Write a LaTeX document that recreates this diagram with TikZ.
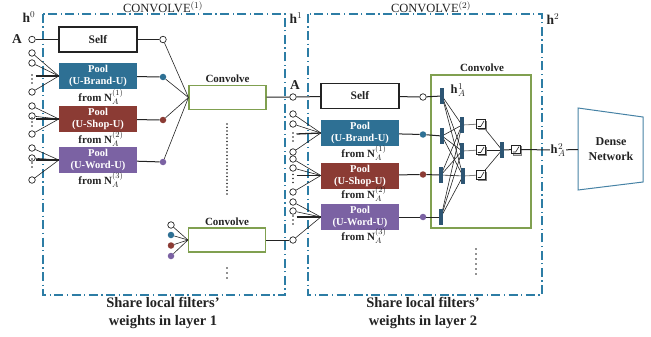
\documentclass[tikz,border=0pt]{standalone}
\usepackage{fontspec}
\setmainfont{Liberation Serif}
\usetikzlibrary{backgrounds,shadows}
\definecolor{ink}{RGB}{35,35,35}
\definecolor{frameblue}{RGB}{45,125,165}
\definecolor{brandc}{RGB}{46,112,148}
\definecolor{shopc}{RGB}{139,59,52}
\definecolor{wordc}{RGB}{123,98,163}
\definecolor{convg}{RGB}{128,160,80}
\definecolor{barc}{RGB}{45,85,115}
\definecolor{densec}{RGB}{70,130,165}
\begin{document}
\begin{tikzpicture}[x=1pt,y=-1pt,
  every node/.style={text=ink},
  lbl/.style={font=\fontsize{11}{12}\selectfont\bfseries, inner sep=0.5pt},
  big/.style={font=\fontsize{13.5}{14}\selectfont\bfseries, inner sep=0.5pt},
  hlbl/.style={font=\fontsize{12.5}{13}\selectfont\bfseries, inner sep=0.5pt},
  frame/.style={draw=frameblue, line width=1.1pt, dash pattern=on 9pt off 3.5pt on 1.2pt off 3.5pt},
  selfbox/.style={draw=ink, line width=1.1pt, fill=white, minimum width=78pt, minimum height=25pt, inner sep=0pt, font=\fontsize{11.5}{12}\selectfont\bfseries},
  pool/.style={minimum width=78pt, minimum height=26pt, inner sep=0pt, align=center, text=white, font=\fontsize{10.5}{12}\selectfont\bfseries},
  convbox/.style={draw=convg, line width=1.1pt, minimum width=77pt, minimum height=24pt, inner sep=0pt},
  oc/.style={circle, draw=ink, fill=white, line width=0.7pt, minimum size=6.5pt, inner sep=0pt},
  fc/.style={circle, minimum size=6.5pt, inner sep=0pt},
  wire/.style={draw=ink, line width=0.6pt},
  feed/.style={draw=ink, line width=1pt},
  stub/.style={draw=ink, line width=1.3pt},
  bar/.style={fill=barc, minimum width=4pt, minimum height=16pt, inner sep=0pt},
  act/.style={draw=ink, fill=white, line width=0.6pt, minimum size=8.5pt, inner sep=0pt,
    copy shadow={shadow xshift=1.2pt, shadow yshift=-1.2pt, draw=gray, fill=gray!40},
    path picture={\draw[line width=0.6pt] ([shift={(1.2pt,1.8pt)}]path picture bounding box.south west) -- ++(2.8pt,0pt) -- ([shift={(-1.2pt,-1.2pt)}]path picture bounding box.north east);}},
]
\useasboundingbox (0,0) rectangle (651,337);

% group frames
\draw[frame] (43,14) rectangle (285,295);
\draw[frame] (308,14) rectangle (542,295);

% titles and layer markers
\node[font=\fontsize{12.5}{13}\selectfont] (t1) at (163,7) {CONVOLVE$^{(1)}$};
\node[font=\fontsize{12.5}{13}\selectfont] (t2) at (431,7) {CONVOLVE$^{(2)}$};
\node[big] (h0) at (29,17) {h$^{0}$};
\node[big] (h1) at (296,18) {h$^{1}$};
\node[big] (h2) at (553,19) {h$^{2}$};

% ---------- layer 1 ----------
\node[big] (A1) at (17,39) {A};
\node[oc] (a1) at (32,39.5) {};
\node[selfbox] (s1) at (98,39.5) {Self};
\node[oc] (so1) at (163,39.5) {};
\node[pool, fill=brandc] (b1) at (98,76) {Pool\\(U-Brand-U)};
\node[pool, fill=shopc] (p1) at (98,119) {Pool\\(U-Shop-U)};
\node[pool, fill=wordc] (w1) at (98,160) {Pool\\(U-Word-U)};
\node[lbl] (fb1) at (101,97) {from \textbf{N}$_{A}^{(1)}$};
\node[lbl] (fp1) at (101,139) {from \textbf{N}$_{A}^{(2)}$};
\node[lbl] (fw1) at (101,180) {from \textbf{N}$_{A}^{(3)}$};
\node[fc, fill=brandc] (bo1) at (163,77) {};
\node[fc, fill=shopc] (po1) at (163,120) {};
\node[fc, fill=wordc] (wo1) at (163,162) {};

\draw[feed] (a1) -- (s1);
\draw[feed] (s1) -- (so1);
\draw[feed] (b1) -- (bo1);
\draw[feed] (p1) -- (po1);
\draw[feed] (w1) -- (wo1);

\node[convbox] (c1) at (227.5,97.5) {};
\node[lbl] (cl1) at (227.5,79) {Convolve};
\foreach \n in {so1,bo1,po1,wo1} \draw[wire] (\n) -- (c1.west);
\foreach \y in {124,127.5,...,195} \fill[ink] (227,\y) circle (0.8);

\node[convbox] (c2) at (227,240) {};
\node[lbl] (cl2) at (227,222) {Convolve};
\node[oc] (k1) at (171,225) {};
\node[fc, fill=brandc] (k2) at (171,235) {};
\node[fc, fill=shopc] (k3) at (171,245.5) {};
\node[fc, fill=wordc] (k4) at (171,256) {};
\foreach \n in {k1,k2,k3,k4} \draw[wire] (\n) -- (c2.west);
\foreach \y in {268,273,278} \fill[ink] (227,\y) circle (0.8);

% ---------- layer 2 ----------
\node[big] (A2) at (295,85) {A};
\node[oc] (a2) at (293,97) {};
\node[selfbox] (s2) at (360,96) {Self};
\node[oc] (so2) at (423,97) {};
\node[pool, fill=brandc] (b2) at (360,133) {Pool\\(U-Brand-U)};
\node[pool, fill=shopc] (p2) at (360,175.5) {Pool\\(U-Shop-U)};
\node[pool, fill=wordc] (w2) at (360,217) {Pool\\(U-Word-U)};
\node[lbl] (fb2) at (364,153) {from \textbf{N}$_{A}^{(1)}$};
\node[lbl] (fp2) at (364,194) {from \textbf{N}$_{A}^{(2)}$};
\node[lbl] (fw2) at (364,236) {from \textbf{N}$_{A}^{(3)}$};
\node[fc, fill=brandc] (bo2) at (423,134.5) {};
\node[fc, fill=shopc] (po2) at (423,174.5) {};
\node[fc, fill=wordc] (wo2) at (423,217) {};

\draw[feed] (c1) -- (a2);
\draw[feed] (a2) -- (s2);
\draw[feed] (s2) -- (so2);
\draw[feed] (b2) -- (bo2);
\draw[feed] (p2) -- (po2);
\draw[feed] (w2) -- (wo2);

% neighbour inputs feeding each pooling box
\foreach \bx/\c/\xa/\ya/\yb/\yc in {b1/76/32/53/63/92, p1/119/32/106/116/134, w1/160/32/148/158/180,
                                     b2/134/293/114/124/152, p2/175.5/293/159/168/192, w2/217/293/202/211/240}{
  \node[oc] (\bx-t1) at (\xa,\ya) {};
  \node[oc] (\bx-t2) at (\xa,\yb) {};
  \node[oc] (\bx-bt) at (\xa,\yc) {};
  \coordinate (\bx-st) at (\xa+3.5,\c);
  \draw[wire] (\bx-t1) -- (\bx.west);
  \draw[wire] (\bx-t2) -- (\bx.west);
  \draw[wire] (\bx-bt) -- (\bx.west);
  \draw[stub] (\bx-st) -- (\bx.west);
  \foreach \d in {-1,3,7} \fill[ink] (\xa,\c+\d) circle (0.9);
}
\draw[feed] (c2) -- (w2-bt);

% convolution block of layer 2
\node[convbox, minimum width=100pt, minimum height=153pt] (cb) at (481,151.5) {};
\node[lbl] (cbl) at (482,68) {Convolve};
\node[bar] (i1) at (442,96) {};
\node[bar] (i2) at (442,136) {};
\node[bar] (i3) at (441,175) {};
\node[bar] (i4) at (441,217) {};
\node[bar] (g1) at (462,125) {};
\node[bar] (g2) at (462,151) {};
\node[bar] (g3) at (463,176) {};
\node[act] (q1) at (481,124) {};
\node[act] (q2) at (481,150) {};
\node[act] (q3) at (481,175) {};
\node[bar] (o) at (502,150) {};
\node[act] (qf) at (516,149.5) {};
\node[hlbl] (hA1) at (458,90) {h\kern0.5pt$_{A}^{1}$};
\node[hlbl] (hA2) at (558,150) {h\kern0.5pt$_{A}^{2}$};

\draw[feed] (so2) -- (i1);
\draw[feed] (bo2) -- (i2);
\draw[feed] (po2) -- (i3);
\draw[feed] (wo2) -- (i4);
\begin{scope}[on background layer]
  \foreach \i in {1,...,4}
    \foreach \j in {1,2,3}
      \draw[wire] (i\i.center) -- (g\j.center);
  \foreach \j in {1,2,3} {
    \draw[draw=gray, line width=0.8pt] (g\j.center) -- (q\j);
    \draw[wire] (q\j) -- (o.center);
  }
\end{scope}
\draw[feed] (o) -- (qf);
\draw[feed] (qf) -- (hA2);

% dense head
\draw[densec, line width=1pt] (578,108) -- (643,117) -- (643,182) -- (578,190) -- cycle;
\coordinate (dn) at (578,149.5);
\node[align=center, font=\fontsize{12}{15}\selectfont\bfseries] (dense) at (611,149.5) {Dense\\Network};
\draw[feed] (hA2) -- (dn);

\foreach \y in {249,254,...,276} \fill[ink] (476,\y) circle (0.8);

% captions
\node[align=center, font=\fontsize{14.5}{18}\selectfont\bfseries] (cap1) at (163,312.5) {Share local filters’\\weights in layer 1};
\node[align=center, font=\fontsize{14.5}{18}\selectfont\bfseries] (cap2) at (423,312.5) {Share local filters’\\weights in layer 2};
\end{tikzpicture}
\end{document}
